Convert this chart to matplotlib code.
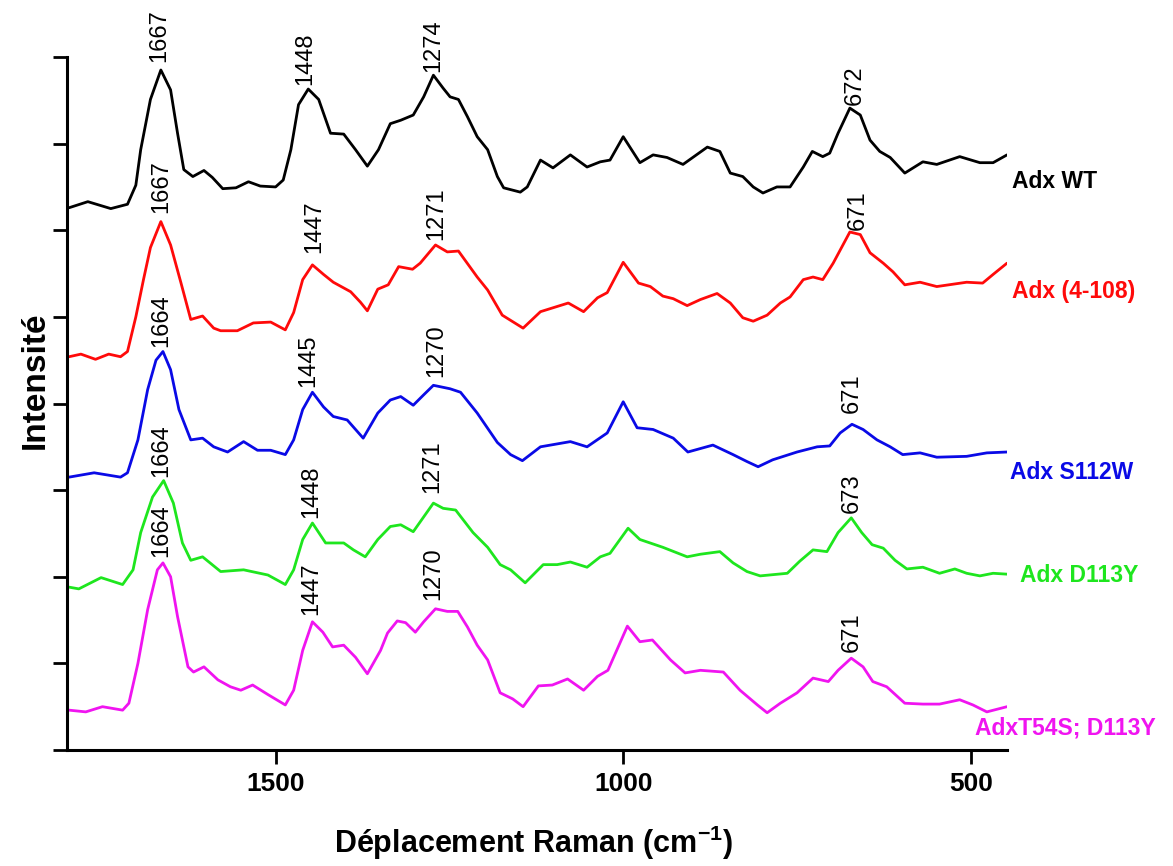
import matplotlib
matplotlib.use("Agg")
import matplotlib.pyplot as plt

plt.rcParams['font.family'] = ['Liberation Sans', 'DejaVu Sans']
plt.rcParams['mathtext.fontset'] = 'custom'
plt.rcParams['mathtext.rm'] = 'Liberation Sans'
plt.rcParams['mathtext.bf'] = 'Liberation Sans:bold'

# --- spectra (Raman shift in cm-1, stacked intensity in tick units) ---
wt_x = [1797, 1770, 1737, 1713, 1701, 1694, 1680, 1665, 1651, 1641, 1632, 1619, 1603, 1591,
        1576, 1557, 1539, 1522, 1500, 1489, 1478, 1467, 1453, 1438, 1421, 1402, 1385, 1368,
        1352, 1335, 1320, 1302, 1287, 1273, 1259, 1249, 1237, 1224, 1210, 1195, 1181, 1172,
        1148, 1138, 1119, 1101, 1076, 1052, 1033, 1019, 1000, 976, 957, 937, 914, 879, 861,
        846, 828, 813, 799, 779, 760, 741, 728, 713, 703, 691, 674, 659, 645, 631, 616, 595,
        583, 569, 549, 516, 487, 468, 448]
wt_y = [6.26, 6.33, 6.25, 6.30, 6.52, 6.93, 7.51, 7.85, 7.62, 7.12, 6.70, 6.62, 6.69, 6.61,
        6.48, 6.49, 6.56, 6.51, 6.50, 6.58, 6.93, 7.45, 7.63, 7.51, 7.12, 7.11, 6.93, 6.74,
        6.93, 7.23, 7.27, 7.33, 7.54, 7.79, 7.64, 7.54, 7.51, 7.31, 7.08, 6.93, 6.62, 6.49,
        6.44, 6.50, 6.81, 6.72, 6.87, 6.73, 6.79, 6.81, 7.08, 6.78, 6.87, 6.84, 6.76, 6.96, 6.91,
        6.66, 6.62, 6.50, 6.43, 6.50, 6.50, 6.73, 6.91, 6.85, 6.89, 7.12, 7.41, 7.33, 7.04, 6.91,
        6.84, 6.66, 6.72, 6.79, 6.76, 6.85, 6.78, 6.78, 6.87]

d4_x = [1797, 1780, 1759, 1740, 1723, 1713, 1701, 1690, 1680, 1665, 1651, 1636, 1622, 1605,
        1589, 1579, 1555, 1532, 1507, 1486, 1474, 1461, 1447, 1431, 1417, 1392, 1378, 1368,
        1353, 1338, 1323, 1303, 1292, 1270, 1253, 1237, 1210, 1195, 1174, 1158, 1144, 1119,
        1095, 1079, 1057, 1037, 1023, 1000, 978, 961, 943, 928, 908, 889, 865, 846, 828, 813,
        793, 774, 760, 741, 727, 713, 698, 674, 659, 645, 626, 612, 595, 573, 549, 506, 483,
        468, 448]
d4_y = [4.54, 4.57, 4.51, 4.57, 4.54, 4.60, 5.00, 5.43, 5.80, 6.10, 5.83, 5.39, 4.97, 5.01,
        4.87, 4.84, 4.84, 4.93, 4.94, 4.85, 5.05, 5.43, 5.60, 5.49, 5.40, 5.29, 5.17, 5.07,
        5.32, 5.37, 5.58, 5.55, 5.62, 5.83, 5.75, 5.76, 5.46, 5.31, 5.02, 4.94, 4.87, 5.06,
        5.12, 5.16, 5.06, 5.22, 5.28, 5.63, 5.39, 5.35, 5.24, 5.21, 5.13, 5.20, 5.27, 5.16,
        4.99, 4.95, 5.02, 5.16, 5.23, 5.43, 5.46, 5.43, 5.62, 5.98, 5.95, 5.74, 5.62, 5.52,
        5.37, 5.40, 5.35, 5.40, 5.39, 5.49, 5.62]

s112w_x = [1797, 1761, 1723, 1713, 1698, 1684, 1672, 1662, 1651, 1639, 1622, 1605, 1589, 1569,
           1546, 1526, 1507, 1486, 1474, 1461, 1447, 1431, 1417, 1397, 1374, 1353, 1335, 1320,
           1302, 1287, 1273, 1249, 1234, 1210, 1181, 1162, 1145, 1119, 1076, 1052, 1023, 1000,
           980, 957, 928, 907, 871, 842, 822, 806, 785, 750, 721, 703, 688, 671, 655, 635, 616,
           598, 573, 549, 506, 477, 448]
s112w_y = [3.15, 3.20, 3.15, 3.20, 3.58, 4.16, 4.50, 4.60, 4.39, 3.93, 3.58, 3.60, 3.50, 3.44,
           3.56, 3.46, 3.46, 3.41, 3.58, 3.93, 4.13, 3.96, 3.85, 3.81, 3.60, 3.89, 4.04, 4.08,
           3.98, 4.10, 4.21, 4.17, 4.13, 3.89, 3.55, 3.41, 3.34, 3.50, 3.56, 3.50, 3.66, 4.02,
           3.72, 3.70, 3.60, 3.44, 3.52, 3.41, 3.33, 3.27, 3.35, 3.44, 3.50, 3.51, 3.66, 3.76,
           3.70, 3.58, 3.50, 3.41, 3.43, 3.38, 3.39, 3.43, 3.44]

d113y_x = [1797, 1783, 1751, 1720, 1705, 1694, 1677, 1661, 1647, 1634, 1622, 1605, 1579, 1546,
           1511, 1486, 1474, 1461, 1447, 1428, 1402, 1388, 1371, 1353, 1335, 1320, 1302, 1273,
           1259, 1241, 1216, 1195, 1177, 1162, 1141, 1115, 1095, 1076, 1052, 1033, 1019, 993,
           976, 943, 908, 889, 861, 842, 822, 803, 764, 746, 727, 707, 691, 672, 657, 642, 626,
           609, 592, 569, 545, 523, 506, 487, 468, 448]
d113y_y = [1.88, 1.86, 1.99, 1.91, 2.08, 2.51, 2.92, 3.11, 2.85, 2.39, 2.19, 2.23, 2.06, 2.08,
           2.02, 1.91, 2.08, 2.43, 2.62, 2.39, 2.39, 2.31, 2.23, 2.43, 2.58, 2.60, 2.52, 2.85,
           2.79, 2.77, 2.51, 2.34, 2.14, 2.08, 1.93, 2.14, 2.14, 2.17, 2.11, 2.23, 2.27, 2.56,
           2.43, 2.34, 2.23, 2.26, 2.29, 2.16, 2.06, 2.01, 2.04, 2.18, 2.31, 2.29, 2.51, 2.68,
           2.51, 2.37, 2.33, 2.19, 2.09, 2.11, 2.04, 2.09, 2.04, 2.01, 2.04, 2.03]

t54s_x = [1797, 1773, 1749, 1720, 1711, 1698, 1684, 1670, 1662, 1651, 1641, 1626, 1618, 1603,
          1583, 1565, 1550, 1533, 1511, 1486, 1474, 1461, 1447, 1432, 1418, 1402, 1385, 1368,
          1349, 1339, 1325, 1313, 1299, 1287, 1270, 1253, 1238, 1224, 1210, 1195, 1177, 1159,
          1144, 1122, 1102, 1080, 1057, 1037, 1022, 994, 976, 958, 932, 911, 889, 856, 832,
          807, 793, 774, 750, 727, 705, 691, 672, 655, 641, 621, 595, 569, 545, 516, 497, 477,
          448]
t54s_y = [0.46, 0.44, 0.50, 0.46, 0.54, 1.00, 1.62, 2.08, 2.16, 2.00, 1.54, 0.96, 0.90, 0.96,
          0.81, 0.73, 0.69, 0.75, 0.64, 0.52, 0.69, 1.15, 1.48, 1.36, 1.19, 1.21, 1.07, 0.88,
          1.15, 1.35, 1.49, 1.47, 1.36, 1.48, 1.63, 1.60, 1.60, 1.42, 1.21, 1.04, 0.66, 0.59,
          0.50, 0.74, 0.75, 0.82, 0.69, 0.85, 0.92, 1.43, 1.25, 1.27, 1.04, 0.89, 0.92, 0.90,
          0.69, 0.52, 0.43, 0.54, 0.66, 0.83, 0.79, 0.92, 1.06, 0.96, 0.79, 0.73, 0.54, 0.53,
          0.53, 0.58, 0.52, 0.44, 0.50]

names = ['Adx WT', 'Adx (4-108)', 'Adx S112W', 'Adx D113Y', 'AdxT54S; D113Y']
colors = ['#000000', '#ff0a0a', '#0a0ae6', '#1ee61e', '#f014f0']
xs = [wt_x, d4_x, s112w_x, d113y_x, t54s_x]
ys = [wt_y, d4_y, s112w_y, d113y_y, t54s_y]

# peak annotations: (text, shift, intensity at label foot)
peaks = [
    [('1667', 1668, 7.94), ('1448', 1457, 7.68), ('1274', 1273, 7.83), ('672', 667, 7.45)],
    [('1667', 1665, 6.20), ('1447', 1445, 5.74), ('1271', 1269, 5.89), ('671', 662, 6.00)],
    [('1664', 1664, 4.65), ('1445', 1453, 4.19), ('1270', 1269, 4.31), ('671', 671, 3.89)],
    [('1664', 1664, 3.15), ('1448', 1448, 2.68), ('1271', 1274, 2.97), ('673', 672, 2.74)],
    [('1664', 1665, 2.23), ('1447', 1448, 1.56), ('1270', 1273, 1.73), ('671', 672, 1.13)],
]
# trace name positions (shift, intensity)
name_pos = [(441, 6.56), (441, 5.29), (444, 3.20), (430, 2.02), (494, 0.25)]

fig = plt.figure(figsize=(11.73, 8.66), dpi=100)
ax = fig.add_axes([67 / 1173, 1 - 750 / 866, 940 / 1173, 693 / 866])

for x, y, c in zip(xs, ys, colors):
    ax.plot(x, y, color=c, lw=2.0, solid_joinstyle='round', solid_capstyle='round')

for trace in peaks:
    for txt, px, py in trace:
        ax.text(px, py, txt, rotation=90, ha='center', va='bottom',
                fontsize=17, color='black', clip_on=False)

for name, (nx, ny), c in zip(names, name_pos, colors):
    ax.text(nx, ny, name, ha='left', va='center', fontsize=16.5,
            fontweight='bold', color=c, clip_on=False)

ax.set_xlim(1800, 448)
ax.set_ylim(0, 8)
ax.spines['top'].set_visible(False)
ax.spines['right'].set_visible(False)
for s in ['left', 'bottom']:
    ax.spines[s].set_linewidth(2.2)
ax.set_yticks(range(0, 9))
ax.set_yticklabels([])
ax.set_xticks([1500, 1000, 500])
ax.tick_params(direction='out', length=10, width=2, labelsize=19, pad=6)
for lab in ax.get_xticklabels():
    lab.set_fontweight('bold')

fig.text(35 / 1173, 1 - 380 / 866, 'Intensité', rotation=90, ha='center', va='center',
         fontsize=24, fontweight='bold')
fig.text(533 / 1173, 1 - 843 / 866, r'Déplacement Raman (cm$^{\mathbf{-1}}$)',
         ha='center', va='center', fontsize=22, fontweight='bold')

fig.savefig('out.png', dpi=100)
